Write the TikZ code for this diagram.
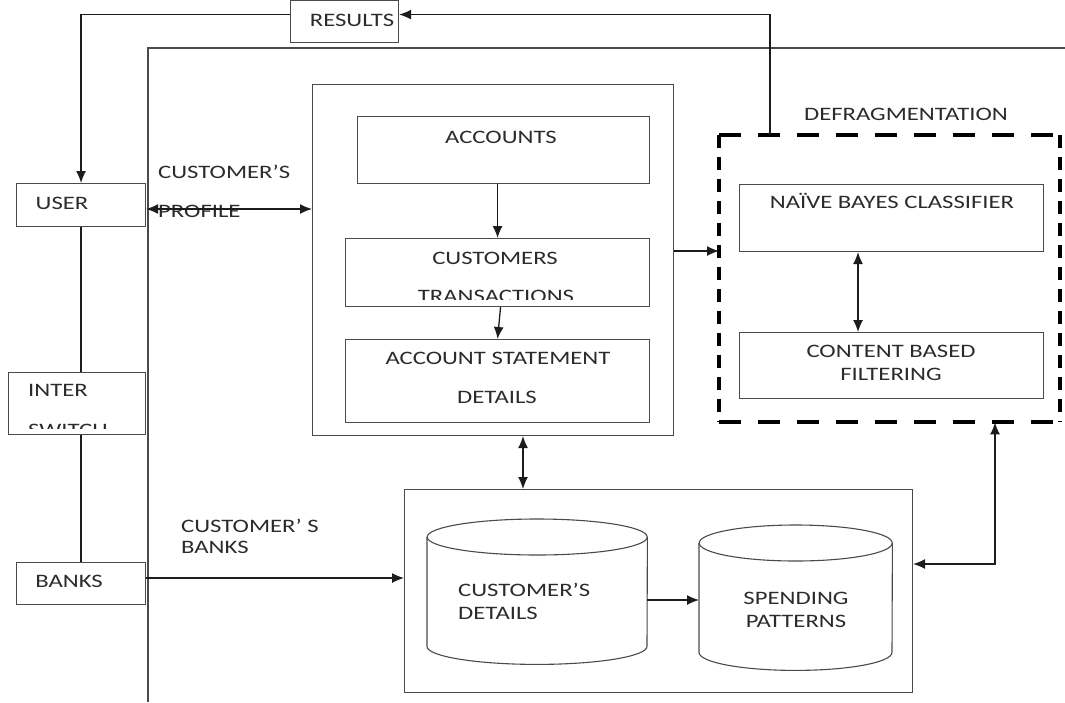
\documentclass[tikz,border=0pt]{standalone}
\usepackage{fontspec}
\setmainfont{Carlito}[FakeStretch=1.3]
\usetikzlibrary{arrows.meta}

\begin{document}
\begin{tikzpicture}[x=1pt,y=-1pt]
\definecolor{boxEdge}{HTML}{4A4A4A}
\definecolor{flowInk}{HTML}{1C1C1C}
\definecolor{labelInk}{HTML}{2B2B2B}
\tikzset{
  >={Latex[length=12pt,width=10pt]},
  flowbox/.style={draw=boxEdge,line width=1.1pt,inner sep=0pt,anchor=north west},
  holder/.style={inner sep=0pt,anchor=north west},
  flowtext/.style={text=labelInk,inner sep=0pt,font=\fontsize{19}{22}\selectfont},
  link/.style={draw=flowInk,line width=1.3pt},
  defragH/.style={draw=black,line width=4pt,dash pattern=on 22pt off 17pt},
  defragV/.style={draw=black,line width=4pt,dash pattern=on 13pt off 9pt},
}
\useasboundingbox (0,0) rectangle (1065,702);

% outer frame, open to the right and below
\draw[draw=boxEdge,line width=1.2pt] (1065,48) -- (148,48) -- (148,702);

% left column
\node[flowbox,minimum width=108pt,minimum height=42pt] (results) at (290,0) {};
\node[flowbox,minimum width=129pt,minimum height=43pt] (user) at (16,183) {};
\node[flowbox,minimum width=137pt,minimum height=62pt] (interSw) at (8,372) {};
\node[flowbox,minimum width=129pt,minimum height=42pt] (banks) at (16,562) {};

% middle block
\node[flowbox,minimum width=361pt,minimum height=351pt] (midBox) at (312,84) {};
\node[flowbox,minimum width=292pt,minimum height=67pt] (accounts) at (357,116) {};
\node[flowbox,minimum width=304pt,minimum height=68pt] (custTrans) at (345,238) {};
\node[flowbox,minimum width=304pt,minimum height=83pt] (acctStmt) at (345,339) {};

% defragmentation group
\node[holder,minimum width=341pt,minimum height=287pt] (defrag) at (719,135) {};
\draw[defragH] (defrag.north west) -- (defrag.north east);
\draw[defragH] (defrag.south west) -- (defrag.south east);
\draw[defragV] (defrag.north west) -- (defrag.south west);
\draw[defragV] (defrag.north east) -- (defrag.south east);
\node[flowbox,minimum width=304pt,minimum height=67pt] (naiveBayes) at (739,184) {};
\node[flowbox,minimum width=304pt,minimum height=66pt] (contentFilt) at (739,332) {};

% data stores
\node[flowbox,minimum width=508pt,minimum height=203pt] (bottomBox) at (404,489) {};
\node[holder,minimum width=220pt,minimum height=145pt] (custDet) at (427,519) {};
\node[holder,minimum width=193pt,minimum height=145pt] (spendPat) at (699,525) {};
\foreach \db/\rx in {custDet/110,spendPat/96.5} {
  \draw[draw=boxEdge,line width=1.1pt] ([yshift=-18pt]\db.north) ellipse [x radius=\rx pt,y radius=18pt];
  \draw[draw=boxEdge,line width=1.1pt] ([yshift=-18pt]\db.north west) -- ([yshift=18pt]\db.south west)
    arc[start angle=180,end angle=360,x radius=\rx pt,y radius=18pt] -- ([yshift=-18pt]\db.north east);
}

% labels
\node[flowtext,anchor=base] (resultsTxt) at (352,26) {RESULTS};
\node[flowtext,anchor=base] (userTxt) at (62,209) {USER};
\node[flowtext,anchor=base west] (interTxt) at (28,396) {INTER};
\begin{scope}
  \clip (interSw.north west) rectangle ([yshift=7pt]interSw.south east);
  \node[flowtext,anchor=base west] (switchTxt) at (28,436) {SWITCH};
\end{scope}
\node[flowtext,anchor=base] (banksTxt) at (69,587) {BANKS};
\node[flowtext,anchor=base west] (profileTop) at (158,178) {CUSTOMER’S};
\node[flowtext,anchor=base west] (profileBot) at (158,217) {PROFILE};
\node[flowtext,anchor=base west] (bankLblTop) at (181,532) {CUSTOMER’ S};
\node[flowtext,anchor=base west] (bankLblBot) at (181,553) {BANKS};
\node[flowtext,anchor=base] (accountsTxt) at (501,143) {ACCOUNTS};
\node[flowtext,anchor=base] (custTransTop) at (495,264) {CUSTOMERS};
\begin{scope}
  \clip (custTrans.north west) rectangle ([yshift=8pt]custTrans.south east);
  \node[flowtext,anchor=base] (custTransBot) at (496,302) {TRANSACTIONS};
\end{scope}
\node[flowtext,anchor=base] (acctStmtTop) at (498,364) {ACCOUNT STATEMENT};
\node[flowtext,anchor=base] (acctStmtBot) at (497,403) {DETAILS};
\node[flowtext,anchor=base] (defragTxt) at (906,120) {DEFRAGMENTATION};
\node[flowtext,anchor=base] (naiveTxt) at (892,208) {NAÏVE BAYES CLASSIFIER};
\node[flowtext,anchor=base] (contentTop) at (891,357) {CONTENT BASED};
\node[flowtext,anchor=base] (contentBot) at (891,380) {FILTERING};
\node[flowtext,anchor=base west] (custDetTop) at (458,596) {CUSTOMER’S};
\node[flowtext,anchor=base west] (custDetBot) at (458,619) {DETAILS};
\node[flowtext,anchor=base] (spendTop) at (796,604) {SPENDING};
\node[flowtext,anchor=base] (spendBot) at (796,627) {PATTERNS};

% connectors
\coordinate (defragTap) at (770,135);
\draw[link,->] ([yshift=7pt]results.west) -| (user.north);
\draw[link,->] (defragTap) |- ([yshift=7pt]results.east);
\draw[link,<->] (user.east |- 0,209) -- (midBox.west |- 0,209);
\draw[link] (user.south) -- (user.south |- interSw.north);
\draw[link] (user.south |- interSw.south) -- (user.south |- banks.north);
\draw[link,->] (banks.east |- 0,578) -- (bottomBox.west |- 0,578);
\draw[link,->] (custTrans.north |- accounts.south) -- (custTrans.north);
\draw[link,->] ([xshift=3pt]custTrans.south) -- (acctStmt.north);
\draw[link,->] (midBox.east |- 0,251) -- (defrag.west |- 0,251);
\draw[link,<->] (naiveBayes.south -| 858,0) -- (contentFilt.north -| 858,0);
\draw[link,<->] (midBox.south -| 523,0) -- (bottomBox.north -| 523,0);
\draw[link,<->] (defrag.south -| 995,0) |- (bottomBox.east |- 0,564);
\draw[link,->] (custDet.east |- 0,600) -- (spendPat.west |- 0,600);
\end{tikzpicture}
\end{document}
